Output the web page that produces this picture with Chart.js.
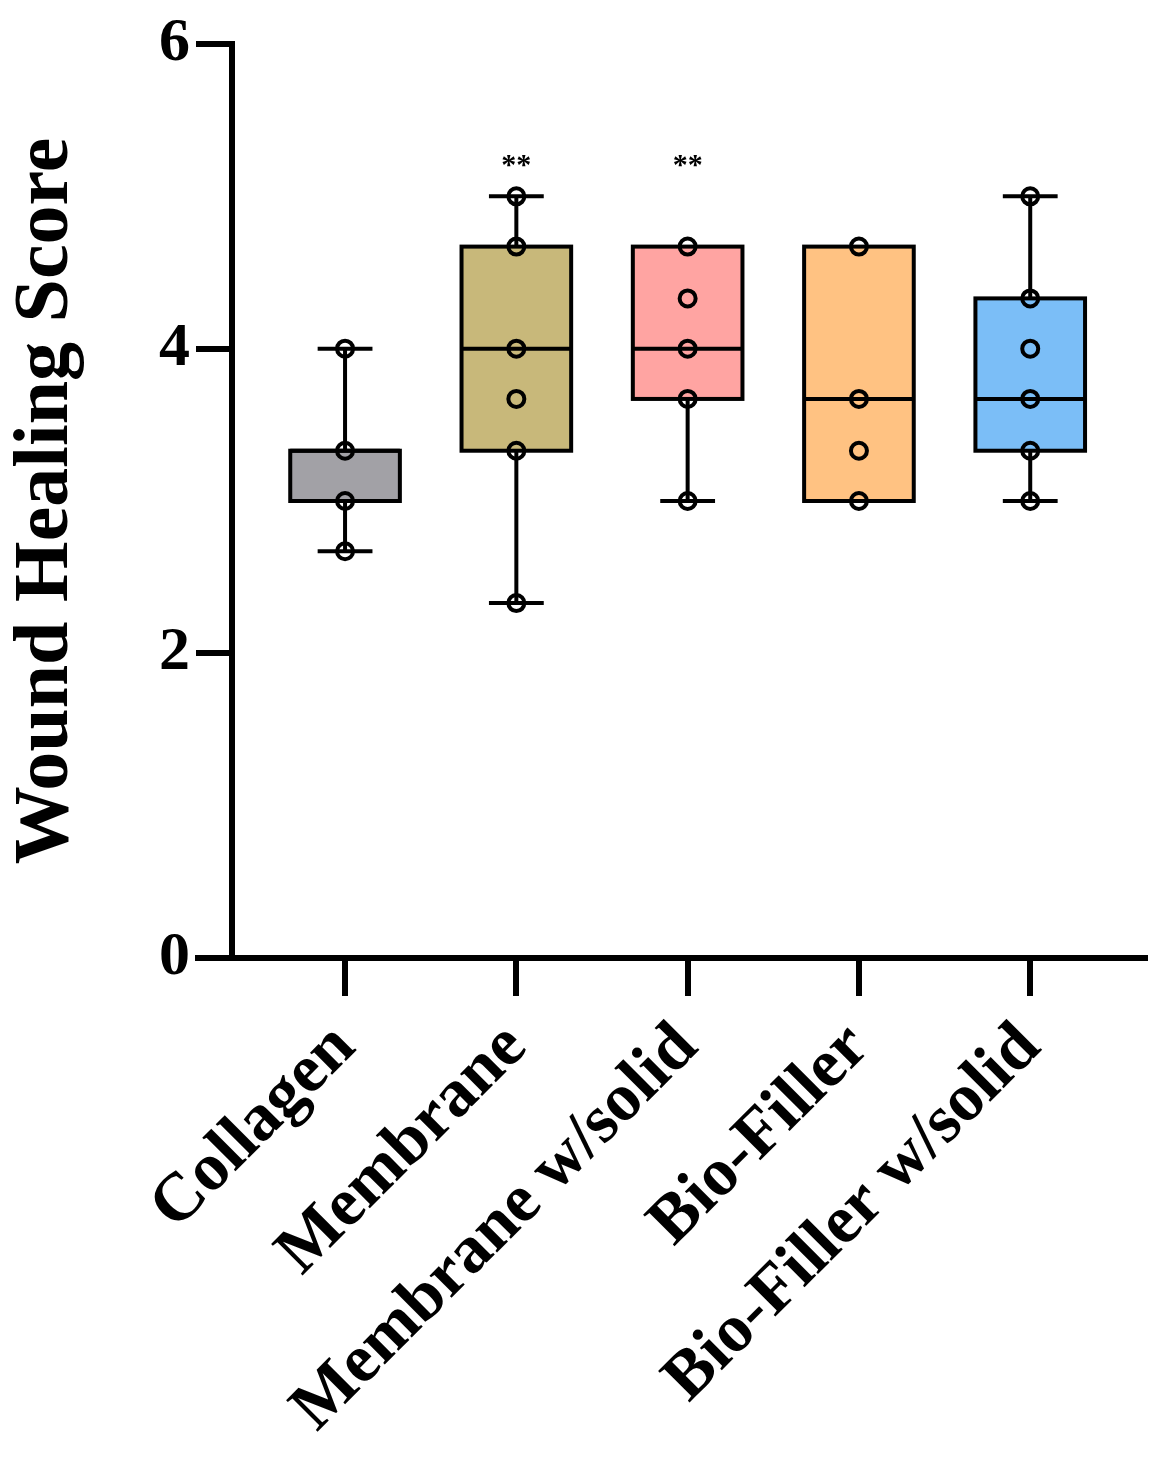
<!DOCTYPE html>
<html>
<head>
<meta charset="utf-8">
<script src="https://cdn.jsdelivr.net/npm/chart.js@4"></script>
<style>
  html, body { margin: 0; padding: 0; background: #fff; }
  #wrap { width: 1168px; height: 1462px; }
</style>
</head>
<body>
<div id="wrap"><canvas id="grafico" width="1168" height="1462"></canvas></div>
<script>
// Dados (caixas: min, q1, mediana, q3, max; pontos individuais)
const grupos = [
    { nome: 'Collagen', cor: '#a2a1a6', min: 2.67, q1: 3.0, med: 3.33, q3: 3.33, max: 4.0, pontos: [4.0, 3.33, 3.0, 2.67] },
    { nome: 'Membrane', cor: '#c8b87a', min: 2.33, q1: 3.33, med: 4.0, q3: 4.67, max: 5.0, pontos: [5.0, 4.67, 4.0, 3.67, 3.33, 2.33], sig: '**' },
    { nome: 'Membrane w/solid', cor: '#ffa4a2', min: 3.0, q1: 3.67, med: 4.0, q3: 4.67, max: 4.67, pontos: [4.67, 4.33, 4.0, 3.67, 3.0], sig: '**' },
    { nome: 'Bio-Filler', cor: '#ffc282', min: 3.0, q1: 3.0, med: 3.67, q3: 4.67, max: 4.67, pontos: [4.67, 3.67, 3.33, 3.0] },
    { nome: 'Bio-Filler w/solid', cor: '#7bbef7', min: 3.0, q1: 3.33, med: 3.67, q3: 4.33, max: 5.0, pontos: [5.0, 4.33, 4.0, 3.67, 3.33, 3.0] }
];

const pontosScatter = [];
grupos.forEach((g, i) => g.pontos.forEach(v => pontosScatter.push({ x: i, y: v })));

const fonte = '"Liberation Serif", "Times New Roman", serif';
const meiaCaixa = 0.32, meioCap = 0.16;

// Plugin para desenhar as caixas, bigodes e medianas
const caixasPlugin = {
    id: 'caixas',
    beforeDatasetsDraw(chart) {
        const ctx = chart.ctx, sx = chart.scales.x, sy = chart.scales.y;
        ctx.save();
        ctx.lineWidth = 4;
        ctx.strokeStyle = '#000';
        grupos.forEach((g, i) => {
            const xc = sx.getPixelForValue(i);
            const xl = sx.getPixelForValue(i - meiaCaixa), xr = sx.getPixelForValue(i + meiaCaixa);
            const cl = sx.getPixelForValue(i - meioCap), cr = sx.getPixelForValue(i + meioCap);
            const yq1 = sy.getPixelForValue(g.q1), yq3 = sy.getPixelForValue(g.q3);
            // bigodes
            ctx.beginPath();
            if (g.max > g.q3) {
                const ym = sy.getPixelForValue(g.max);
                ctx.moveTo(xc, yq3); ctx.lineTo(xc, ym);
                ctx.moveTo(cl, ym); ctx.lineTo(cr, ym);
            }
            if (g.min < g.q1) {
                const ym = sy.getPixelForValue(g.min);
                ctx.moveTo(xc, yq1); ctx.lineTo(xc, ym);
                ctx.moveTo(cl, ym); ctx.lineTo(cr, ym);
            }
            ctx.stroke();
            // caixa
            ctx.fillStyle = g.cor;
            ctx.fillRect(xl, yq3, xr - xl, yq1 - yq3);
            ctx.strokeRect(xl, yq3, xr - xl, yq1 - yq3);
            // mediana
            const ymed = sy.getPixelForValue(g.med);
            ctx.beginPath(); ctx.moveTo(xl, ymed); ctx.lineTo(xr, ymed); ctx.stroke();
            // significância
            if (g.sig) {
                ctx.fillStyle = '#000';
                ctx.font = 'bold 30px ' + fonte;
                ctx.textAlign = 'center';
                ctx.fillText(g.sig, xc, sy.getPixelForValue(5.2) + 8);
            }
        });
        // prolongar o eixo x para a esquerda
        const y0 = sy.getPixelForValue(0);
        ctx.lineWidth = 6;
        ctx.beginPath(); ctx.moveTo(195, y0); ctx.lineTo(chart.chartArea.right, y0); ctx.stroke();
        ctx.restore();
    }
};

new Chart(document.getElementById('grafico').getContext('2d'), {
    type: 'scatter',
    data: {
        datasets: [{
            data: pontosScatter,
            pointRadius: 8,
            pointBorderWidth: 4,
            pointBackgroundColor: 'rgba(255,255,255,0)',
            pointBorderColor: '#000'
        }]
    },
    options: {
        responsive: false,
        animation: false,
        layout: { padding: { left: 0, top: 44, right: 23, bottom: 0 } },
        plugins: { legend: { display: false }, tooltip: { enabled: false } },
        scales: {
            x: {
                type: 'linear',
                min: -0.66, max: 4.67,
                afterBuildTicks: s => { s.ticks = [0, 1, 2, 3, 4].map(v => ({ value: v })); },
                afterFit: s => { s.height = 504; },
                border: { display: true, color: '#000', width: 6 },
                grid: { drawOnChartArea: false, color: '#000', lineWidth: 6, tickLength: 38 },
                ticks: {
                    color: '#000',
                    font: { family: fonte, size: 68, weight: 'bold' },
                    maxRotation: 45, minRotation: 45,
                    padding: 12,
                    callback: v => grupos[v] ? grupos[v].nome : ''
                }
            },
            y: {
                min: 0, max: 6,
                afterFit: s => { s.width = 232; },
                border: { display: true, color: '#000', width: 6 },
                grid: { drawOnChartArea: false, color: '#000', lineWidth: 6, tickLength: 36 },
                ticks: {
                    stepSize: 2,
                    color: '#000',
                    padding: 6,
                    font: { family: fonte, size: 62, weight: 'bold' }
                },
                title: {
                    display: true,
                    text: 'Wound Healing Score',
                    color: '#000',
                    padding: { top: 0, bottom: 0 },
                    font: { family: fonte, size: 78, weight: 'bold' }
                }
            }
        }
    },
    plugins: [caixasPlugin]
});
</script>
</body>
</html>
